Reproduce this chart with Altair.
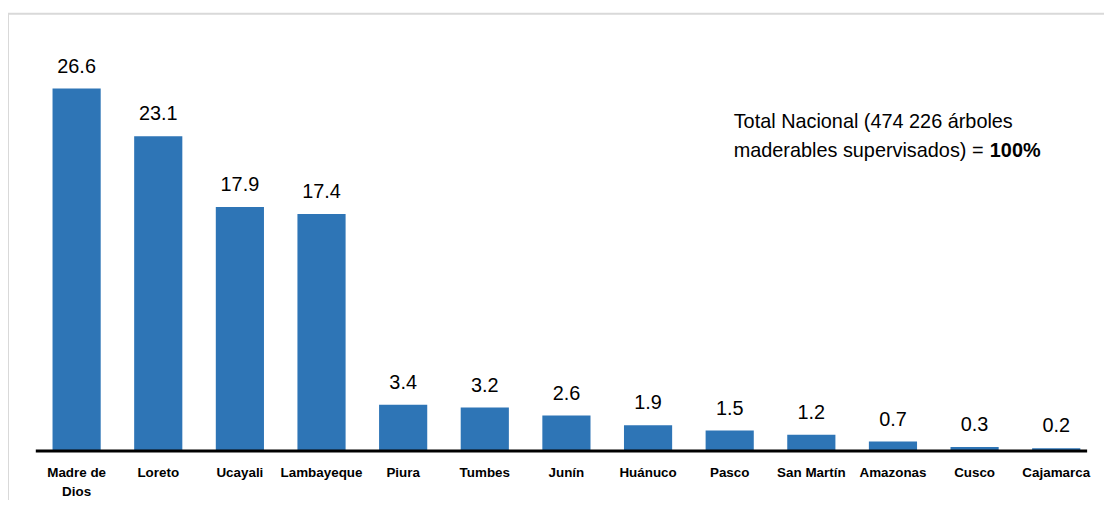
import altair as alt
import pandas as pd

categories = ["Madre de\nDios", "Loreto", "Ucayali", "Lambayeque", "Piura", "Tumbes",
              "Junín", "Huánuco", "Pasco", "San Martín", "Amazonas", "Cusco", "Cajamarca"]
values = [26.6, 23.1, 17.9, 17.4, 3.4, 3.2, 2.6, 1.9, 1.5, 1.2, 0.7, 0.3, 0.2]
value_labels = ["26.6", "23.1", "17.9", "17.4", "3.4", "3.2", "2.6", "1.9", "1.5", "1.2", "0.7", "0.3", "0.2"]
note_line1 = "Total Nacional (474 226 árboles"
note_line2 = "maderables supervisados) = "
note_bold = "100%"

df = pd.DataFrame({"cat": categories, "val": values, "lab": value_labels,
                   "zero": [0.0] * len(values)})
one = pd.DataFrame({"zero": [0.0], "t1": [note_line1], "t2": [note_line2], "t3": [note_bold]})

FONT = "Liberation Sans"
W, H = 1104, 488

xscale = alt.Scale(range=[28, 1097], paddingInner=0.41, paddingOuter=0.205)
yscale = alt.Scale(domain=[0, 30], range=[440.5, 28.6])
xs = alt.X("cat:N", sort=categories, axis=None, scale=xscale)
ys = alt.Y("val:Q", axis=None, scale=yscale)

base = alt.Chart(df)
single = alt.Chart(one)

bars = base.mark_bar(color="#2E75B6").encode(x=xs, y=ys)

vlabels = base.mark_text(font=FONT, fontSize=20, color="#000000", baseline="alphabetic",
                         dy=-16).encode(x=xs, y=ys, text="lab:N")

xlabels = base.mark_text(font=FONT, fontSize=13.5, fontWeight="bold", color="#000000",
                         baseline="top", lineBreak="\n", lineHeight=19, dy=15).encode(
    x=xs, y=alt.Y("zero:Q", axis=None, scale=yscale), text="cat:N")

baseline = single.mark_rule(color="#000000", strokeWidth=3).encode(
    x=alt.value(28), x2=alt.value(1087), y=alt.Y("zero:Q", axis=None, scale=yscale))

frame_left = single.mark_rule(color="#d9d9d9", strokeWidth=2).encode(
    x=alt.value(0), y=alt.value(0), y2=alt.value(H + 10))
frame_top = single.mark_rule(color="#d9d9d9", strokeWidth=2).encode(
    x=alt.value(0), x2=alt.value(W), y=alt.value(0))

n1 = single.mark_text(font=FONT, fontSize=20, align="left", baseline="alphabetic",
                      color="#000000").encode(x=alt.value(731), y=alt.value(115), text="t1:N")
n2 = single.mark_text(font=FONT, fontSize=20, align="left", baseline="alphabetic",
                      color="#000000").encode(x=alt.value(731), y=alt.value(144), text="t2:N")
n3 = single.mark_text(font=FONT, fontSize=20, fontWeight="bold", align="left",
                      baseline="alphabetic", color="#000000").encode(
    x=alt.value(989), y=alt.value(144), text="t3:N")

chart = alt.layer(frame_left, frame_top, bars, baseline, vlabels, xlabels, n1, n2, n3).properties(
    width=W, height=H, padding={"left": 0, "top": 4, "right": 0, "bottom": 0},
    background="white", autosize=alt.AutoSizeParams(type="none")
).configure_view(strokeWidth=0)

chart.save("out.html", embed_options={"renderer": "svg", "actions": False})
